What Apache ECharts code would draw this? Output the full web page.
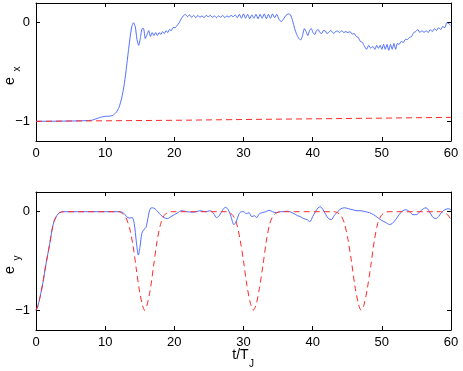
<!DOCTYPE html>
<html>
<head>
<meta charset="utf-8">
<script src="https://cdn.jsdelivr.net/npm/echarts@6/dist/echarts.min.js"></script>
<style>
  html, body { margin: 0; padding: 0; background: #fff; }
  #chart { width: 463px; height: 371px; }
</style>
</head>
<body>
<div id="chart"></div>
<script>
// t/T_J ticks and y ticks
var xTicks = [0, 10, 20, 30, 40, 50, 60];
var yTicks = [-1, 0];

// e_x, numerical (blue solid)
var exSim = [
    [0,-1],[2,-1],[4,-0.998],[6,-0.996],[8,-0.99],[8.7,-0.975],[9.3,-0.96],[10,-0.95],[10.6,-0.948],[11.1,-0.94],
    [11.6,-0.91],[12.0,-0.86],[12.4,-0.76],[12.7,-0.65],[13.0,-0.5],[13.3,-0.32],[13.6,-0.15],[13.85,-0.04],[14.1,0.0],
    [14.35,-0.04],[14.6,-0.17],[14.85,-0.23],[15.1,-0.15],[15.35,-0.06],[15.55,-0.06],[15.8,-0.16],[16.05,-0.12],
    [16.3,-0.08],[16.55,-0.14],[16.8,-0.1],[17.05,-0.13],[17.3,-0.1],[17.55,-0.13],[17.8,-0.1],[18.05,-0.12],
    [18.3,-0.09],[18.55,-0.11],[18.8,-0.08],[19.05,-0.1],[19.3,-0.07],[19.55,-0.08],[19.8,-0.05],[20.1,-0.05],
    [20.4,-0.03],[20.7,0.0],[21.0,0.04],[21.3,0.07],[21.6,0.085],[21.9,0.06],[22.2,0.08],[22.5,0.055],[22.8,0.075],
    [23.1,0.05],[23.4,0.075],[23.7,0.055],[24.0,0.07],[24.3,0.05],[24.6,0.075],[24.9,0.06],[25.2,0.075],[25.5,0.055],
    [25.8,0.07],[26.1,0.05],[26.4,0.07],[26.7,0.055],[27.0,0.075],[27.3,0.05],[27.6,0.07],[27.9,0.055],[28.2,0.075],
    [28.5,0.06],[28.8,0.08],[29.1,0.05],[29.4,0.085],[29.7,0.045],[30.0,0.09],[30.3,0.045],[30.6,0.085],[30.9,0.04],
    [31.2,0.08],[31.5,0.045],[31.8,0.085],[32.1,0.04],[32.4,0.085],[32.7,0.045],[33.0,0.09],[33.3,0.04],[33.6,0.085],
    [33.9,0.045],[34.2,0.09],[34.5,0.05],[34.8,0.085],[35.1,0.04],[35.45,0.01],[35.8,0.04],[36.15,0.075],[36.5,0.09],
    [36.8,0.08],[37.1,0.02],[37.4,-0.06],[37.7,-0.12],[38.0,-0.16],[38.25,-0.175],[38.5,-0.14],[38.8,-0.06],
    [39.05,-0.09],[39.3,-0.13],[39.55,-0.08],[39.8,-0.06],[40.05,-0.1],[40.3,-0.12],[40.55,-0.08],[40.8,-0.07],
    [41.05,-0.1],[41.3,-0.11],[41.55,-0.08],[41.8,-0.08],[42.05,-0.11],[42.3,-0.1],[42.55,-0.08],[42.8,-0.09],
    [43.05,-0.11],[43.3,-0.09],[43.6,-0.085],[43.9,-0.1],[44.2,-0.08],[44.5,-0.1],[44.8,-0.09],[45.1,-0.1],
    [45.4,-0.09],[45.7,-0.115],[46.0,-0.11],[46.3,-0.14],[46.6,-0.15],[46.9,-0.19],[47.2,-0.2],[47.5,-0.24],
    [47.8,-0.27],[48.1,-0.23],[48.4,-0.26],[48.7,-0.24],[49.0,-0.27],[49.25,-0.23],[49.5,-0.26],[49.75,-0.23],
    [50.0,-0.27],[50.25,-0.22],[50.5,-0.27],[50.75,-0.22],[51.0,-0.28],[51.25,-0.22],[51.5,-0.27],[51.75,-0.21],
    [52.0,-0.27],[52.25,-0.21],[52.5,-0.22],[52.8,-0.19],[53.1,-0.2],[53.4,-0.17],[53.7,-0.17],[54.0,-0.15],
    [54.3,-0.14],[54.6,-0.1],[54.9,-0.09],[55.2,-0.07],[55.5,-0.1],[55.8,-0.08],[56.1,-0.1],[56.4,-0.08],
    [56.7,-0.1],[57.0,-0.07],[57.3,-0.09],[57.6,-0.06],[57.9,-0.08],[58.2,-0.05],[58.5,-0.07],[58.8,-0.04],
    [59.1,-0.05],[59.4,0.0],[59.7,-0.01],[60,-0.03]
];

// e_x, model (red dashed)
var exModel = [[0,-1],[10,-0.995],[20,-0.99],[30,-0.982],[40,-0.975],[50,-0.968],[60,-0.96]];

// e_y, numerical (blue solid)
var eySim = [
    [0,-1],[0.3,-0.95],[0.6,-0.86],[1.0,-0.72],[1.3,-0.59],[1.6,-0.47],[2.0,-0.32],[2.3,-0.19],[2.6,-0.1],
    [3.0,-0.04],[3.4,-0.01],[4,0],[8,0],[12,0],[12.6,-0.01],[13.1,-0.05],[13.5,-0.065],[13.9,-0.06],[14.2,-0.12],
    [14.5,-0.3],[14.8,-0.44],[15.05,-0.35],[15.3,-0.22],[15.6,-0.18],[15.9,-0.16],[16.2,-0.06],[16.5,0.03],
    [16.8,0.04],[17.2,0.03],[17.6,0.0],[18.0,-0.03],[18.5,-0.06],[19.0,-0.07],[19.5,-0.05],[20.0,-0.03],
    [20.5,-0.01],[21.0,0.01],[21.8,0.0],[22.8,-0.005],[23.7,0.01],[24.5,0.0],[25.2,0.01],[25.7,-0.02],[26.1,-0.06],
    [26.5,-0.04],[27.0,0.02],[27.4,0.045],[27.8,0.02],[28.2,-0.05],[28.6,-0.13],[28.9,-0.11],[29.3,-0.03],
    [29.7,0.0],[30.0,0.0],[30.4,-0.02],[30.8,-0.01],[31.2,-0.05],[31.6,-0.04],[31.9,-0.06],[32.3,-0.02],
    [32.7,-0.01],[33.2,0.0],[33.7,0.015],[34.2,0.0],[34.8,-0.01],[35.3,0.0],[35.7,0.0],[36.2,0.005],[36.7,0.0],
    [37.3,-0.02],[37.8,-0.04],[38.2,-0.05],[38.7,-0.07],[39.2,-0.08],[39.6,-0.1],[40.0,-0.05],[40.4,0.0],
    [40.8,0.04],[41.1,0.05],[41.5,0.02],[41.9,-0.03],[42.3,-0.07],[42.7,-0.08],[43.1,-0.04],[43.6,0.0],
    [44.1,0.03],[44.6,0.04],[45.2,0.03],[45.8,0.02],[46.4,0.01],[47.0,0.01],[47.6,0.0],[48.2,-0.01],[48.8,-0.03],
    [49.4,-0.06],[50.0,-0.09],[50.6,-0.11],[51.1,-0.13],[51.5,-0.12],[52.0,-0.08],[52.5,-0.03],[53.0,0.01],
    [53.5,0.02],[54.0,0.0],[54.5,-0.03],[55.0,-0.03],[55.5,0.0],[56.0,0.03],[56.4,0.04],[56.8,0.01],[57.3,-0.05],
    [57.8,-0.07],[58.2,-0.05],[58.6,-0.01],[59.1,0.02],[59.6,0.03],[60,0.02]
];

// e_y, model (red dashed)
var eyModel = [
    [0,-1],[0.3,-0.95],[0.6,-0.86],[1.0,-0.72],[1.3,-0.59],[1.6,-0.47],[2.0,-0.32],[2.3,-0.19],[2.6,-0.1],
    [3.0,-0.04],[3.4,-0.01],[4,0],[12,0],[12.5,-0.02],[13,-0.06],[13.5,-0.16],[14,-0.33],[14.5,-0.58],[15,-0.82],
    [15.4,-0.95],[15.7,-1.0],[16,-0.96],[16.5,-0.8],[17,-0.55],[17.5,-0.3],[18,-0.13],[18.5,-0.04],[19,-0.01],
    [19.5,0],[27.5,0],[28,-0.01],[28.5,-0.04],[29,-0.12],[29.5,-0.28],[30,-0.5],[30.5,-0.75],[31,-0.93],
    [31.4,-1],[31.8,-0.95],[32.3,-0.78],[32.8,-0.55],[33.3,-0.3],[33.8,-0.12],[34.3,-0.04],[34.8,-0.01],
    [35.3,0],[43.1,0],[43.6,-0.01],[44.1,-0.04],[44.6,-0.12],[45.1,-0.28],[45.6,-0.5],[46.1,-0.75],[46.6,-0.93],
    [47.0,-1],[47.4,-0.95],[47.9,-0.78],[48.4,-0.55],[48.9,-0.3],[49.4,-0.12],[49.9,-0.04],[50.4,-0.01],
    [50.9,0],[58.5,0],[59,-0.01],[59.5,-0.03],[60,-0.08]
];

var chart = echarts.init(document.getElementById('chart'));

var FONT = 'Liberation Sans, Arial, Helvetica, sans-serif';
var BLUE = '#3d5fff';
var RED = '#ff2a2a';

function minusFmt(v) {
    return String(v).replace('-', '\u2212');
}

function xAx(grid, pos, labels) {
    return {
        type: 'value', gridIndex: grid, position: pos, min: 0, max: 60, interval: 10,
        axisLine: { show: true, onZero: false, lineStyle: { color: '#000', width: 1 } },
        axisTick: { show: true, inside: true, length: 4, lineStyle: { color: '#000' } },
        axisLabel: { show: labels, margin: 6, color: '#000', fontSize: 13, fontFamily: FONT },
        splitLine: { show: false }
    };
}

function yAx(grid, pos, labels) {
    return {
        type: 'value', gridIndex: grid, position: pos, min: -1.2, max: 0.2,
        axisLine: { show: true, onZero: false, lineStyle: { color: '#000', width: 1 } },
        axisTick: { show: true, inside: true, length: 4, customValues: yTicks, lineStyle: { color: '#000' } },
        axisLabel: { show: labels, margin: 6, color: '#000', fontSize: 13, fontFamily: FONT,
            customValues: yTicks, formatter: minusFmt },
        splitLine: { show: false }
    };
}

function txt(x, y, s, size, rot) {
    return {
        type: 'text', x: x, y: y, rotation: rot || 0,
        style: { text: s, fill: '#000', font: size + 'px ' + FONT, align: 'center', verticalAlign: 'middle' }
    };
}

var option = {
    animation: false,
    backgroundColor: '#fff',
    grid: [
        { left: 36, top: 3, width: 415, height: 138 },
        { left: 36, top: 192, width: 415, height: 138 }
    ],
    xAxis: [xAx(0, 'bottom', true), xAx(0, 'top', false), xAx(1, 'bottom', true), xAx(1, 'top', false)],
    yAxis: [yAx(0, 'left', true), yAx(0, 'right', false), yAx(1, 'left', true), yAx(1, 'right', false)],
    series: [
        { type: 'line', xAxisIndex: 0, yAxisIndex: 0, data: exSim, showSymbol: false, smooth: 0.2,
          lineStyle: { color: BLUE, width: 0.9 } },
        { type: 'line', xAxisIndex: 0, yAxisIndex: 0, data: exModel, showSymbol: false,
          lineStyle: { color: RED, width: 1, type: [6, 4] } },
        { type: 'line', xAxisIndex: 2, yAxisIndex: 2, data: eySim, showSymbol: false, smooth: 0.3,
          lineStyle: { color: BLUE, width: 0.9 } },
        { type: 'line', xAxisIndex: 2, yAxisIndex: 2, data: eyModel, showSymbol: false, smooth: 0.3,
          lineStyle: { color: RED, width: 1, type: [6, 4] } }
    ],
    graphic: [
        txt(10.5, 81, 'e', 14, Math.PI / 2),
        txt(17, 69, 'x', 10, Math.PI / 2),
        txt(10.5, 270, 'e', 14, Math.PI / 2),
        txt(17, 258, 'y', 10, Math.PI / 2),
        txt(240.5, 355, 't/T', 14),
        txt(251.5, 364, 'J', 10)
    ]
};

chart.setOption(option);
</script>
</body>
</html>
